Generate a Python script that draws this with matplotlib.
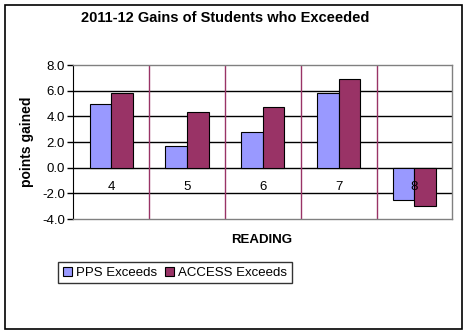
import matplotlib.pyplot as plt
import numpy as np
from matplotlib.patches import Rectangle

plt.rcParams['font.family'] = ['Liberation Sans', 'DejaVu Sans']

grades = ['4', '5', '6', '7', '8']
pps_exceeds = [5.0, 1.7, 2.8, 5.8, -2.5]
access_exceeds = [5.8, 4.3, 4.7, 6.9, -3.0]
yticks = [8.0, 6.0, 4.0, 2.0, 0.0, -2.0, -4.0]

pps_color = '#9999FF'
access_color = '#993366'

fig = plt.figure(figsize=(4.67, 3.34), dpi=100)
# outer chart border
fig.patches.append(Rectangle((5 / 467, 5 / 334), 457 / 467, 324 / 334,
                             transform=fig.transFigure, fill=False,
                             edgecolor='black', linewidth=1.2))

ax = fig.add_axes([73.3 / 467, 1 - 219 / 334, 379 / 467, 154 / 334])
x = np.arange(len(grades))
w = 0.286
ax.set_xlim(-0.5, len(grades) - 0.5)
ax.set_ylim(-4, 8)

# gridlines
for y in yticks[1:-1]:
    ax.axhline(y, color='black', linewidth=1, zorder=1)
ax.vlines(x[:-1] + 0.5, -4, 8, color='#993366', linewidth=1, zorder=1)

ax.bar(x - w / 2, pps_exceeds, w, color=pps_color, edgecolor='black',
       linewidth=0.8, label='PPS Exceeds', zorder=2)
ax.bar(x + w / 2, access_exceeds, w, color=access_color, edgecolor='black',
       linewidth=0.8, label='ACCESS Exceeds', zorder=2)

for xi, g in zip(x, grades):
    ax.text(xi, -1.5, g, ha='center', va='center', fontsize=9.5, zorder=3)

ax.set_xticks([])
ax.set_yticks(yticks)
ax.set_yticklabels(['%.1f' % v for v in yticks], fontsize=9.5)
ax.tick_params(axis='y', length=4, width=1, color='black', pad=2)
for s in ['top', 'right', 'bottom']:
    ax.spines[s].set_color('#808080')
    ax.spines[s].set_linewidth(1)
ax.spines['left'].set_color('black')

ax.set_ylabel('points gained', fontsize=10, fontweight='bold', labelpad=6)
fig.text(225 / 467, 1 - 18 / 334, '2011-12 Gains of Students who Exceeded',
         ha='center', va='center', fontsize=10.5, fontweight='bold')
fig.text(262 / 467, 1 - 240 / 334, 'READING', ha='center', va='center',
         fontsize=9.5, fontweight='bold')

leg = fig.legend(loc='upper left', bbox_to_anchor=(58 / 467, 1 - 262 / 334),
                 ncol=2, fontsize=9.5, frameon=True, fancybox=False,
                 handlelength=0.7, handleheight=0.7, handletextpad=0.3,
                 columnspacing=0.6, borderpad=0.35, borderaxespad=0)
leg.get_frame().set_edgecolor('black')
leg.get_frame().set_linewidth(1)

fig.savefig('out.png', dpi=100)
